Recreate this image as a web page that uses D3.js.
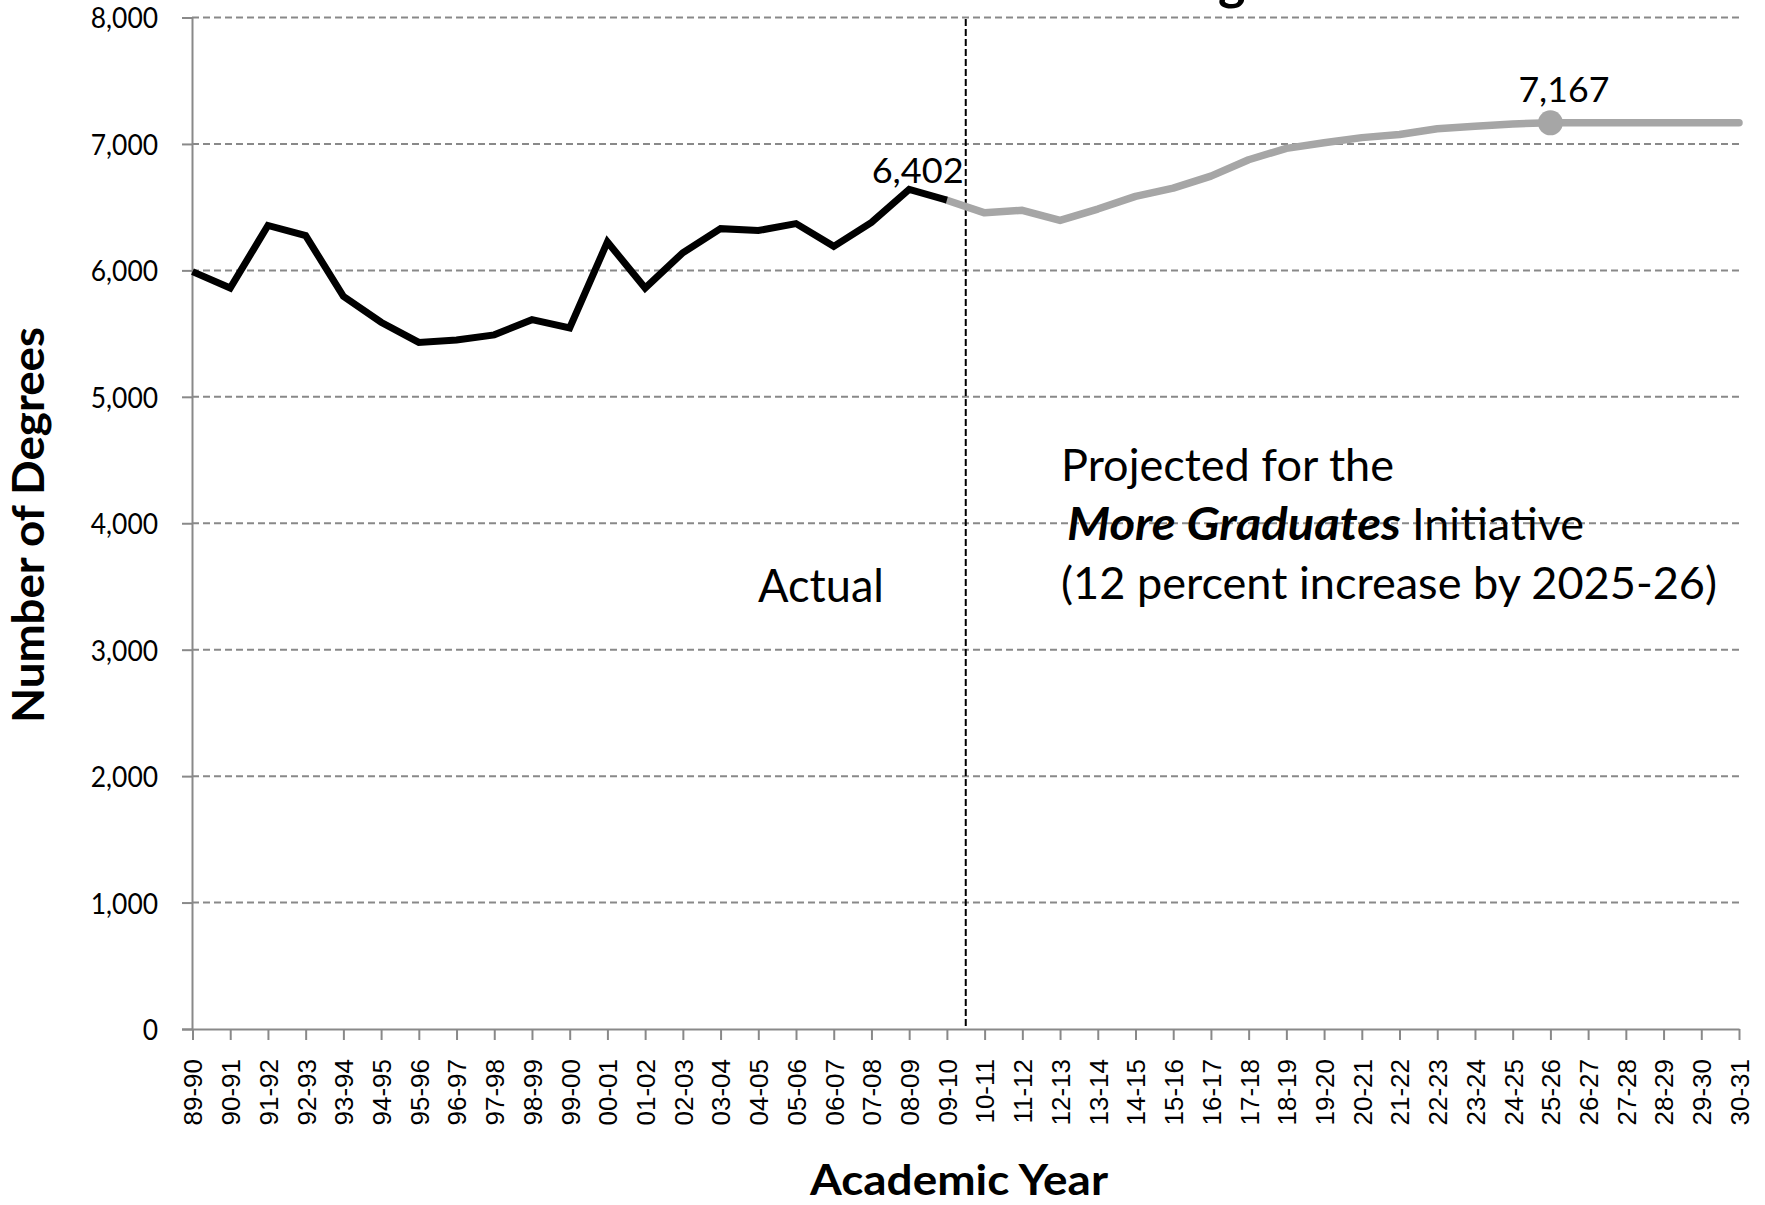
<!DOCTYPE html>
<html>
<head>
<meta charset="utf-8">
<script src="https://cdn.jsdelivr.net/npm/d3@7"></script>
<style>
  html, body { margin: 0; padding: 0; background: #ffffff; }
  svg { display: block; }
</style>
</head>
<body>
<svg id="chart" width="1765" height="1205"></svg>
<script>
// ---------------- data ----------------
const categories = ["89-90","90-91","91-92","92-93","93-94","94-95","95-96","96-97","97-98","98-99",
  "99-00","00-01","01-02","02-03","03-04","04-05","05-06","06-07","07-08","08-09","09-10",
  "10-11","11-12","12-13","13-14","14-15","15-16","16-17","17-18","18-19","19-20","20-21",
  "21-22","22-23","23-24","24-25","25-26","26-27","27-28","28-29","29-30","30-31"];

// Actual degrees, 89-90 through 09-10
const actualYears = categories.slice(0, 21);
const actualValues = [5990, 5860, 6355, 6275, 5795, 5590, 5430, 5450, 5490, 5610,
  5545, 6225, 5860, 6140, 6330, 6315, 6370, 6190, 6380, 6640, 6555];

// Projected degrees, 09-10 through 30-31
const projectedYears = categories.slice(20);
const projectedValues = [6555, 6455, 6475, 6395, 6485, 6585, 6650, 6745, 6875, 6965,
  7010, 7050, 7075, 7120, 7140, 7158, 7167, 7167, 7167, 7167, 7167, 7167];

const yTicks = [0, 1000, 2000, 3000, 4000, 5000, 6000, 7000, 8000];

const markerYear = "25-26";
const markerValue = 7167;
const actualLabelYear = "08-09";
const actualLabelText = "6,402";
const markerLabelText = "7,167";
const dividerPosition = 20.5; // between 09-10 and 10-11 (category index)

// ---------------- chart ----------------
const svg = d3.select("#chart");
const axisColor = "#898989";
const greyLine = "#a6a6a6";
const FONT = "Lato, 'Open Sans', sans-serif";

const x = d3.scalePoint().domain(categories).range([192.5, 1739]);
const y = d3.scaleLinear().domain([0, 8000]).range([1029, 17.5]);
const idx = d3.scaleLinear().domain([0, categories.length - 1]).range(x.range());

function fit(sel, w) {
  sel.attr("textLength", w).attr("lengthAdjust", "spacingAndGlyphs");
  return sel;
}
function squeeze(sel, f) {
  sel.each(function () {
    const w = this.getComputedTextLength();
    d3.select(this).attr("textLength", w * f).attr("lengthAdjust", "spacingAndGlyphs");
  });
}

// cut-off title glyph at very top
svg.append("text")
  .attr("x", 1218).attr("y", -1)
  .attr("font-family", FONT).attr("font-weight", 700).attr("font-size", 52)
  .attr("fill", "#000")
  .text("g");

// gridlines
svg.append("g").selectAll("line")
  .data(yTicks.filter(d => d > 0))
  .join("line")
  .attr("x1", 192).attr("x2", 1740)
  .attr("y1", d => y(d)).attr("y2", d => y(d))
  .attr("stroke", axisColor).attr("stroke-width", 2)
  .attr("stroke-dasharray", "7,4");

// y axis
const yAxis = svg.append("g")
  .attr("transform", "translate(192,0)")
  .call(d3.axisLeft(y).tickValues(yTicks).tickSize(10).tickPadding(24)
        .tickFormat(d3.format(",")));
yAxis.select(".domain").attr("stroke", axisColor).attr("stroke-width", 2);
yAxis.selectAll(".tick line").attr("stroke", axisColor).attr("stroke-width", 2);
yAxis.selectAll(".tick text")
  .attr("font-family", FONT).attr("font-size", 29).attr("fill", "#000")
  .attr("dy", "0.36em")
  .call(squeeze, 0.91);

// x axis
const xAxis = svg.append("g")
  .attr("transform", "translate(0,1029)")
  .call(d3.axisBottom(x).tickSize(11).tickSizeOuter(0));
xAxis.select(".domain").attr("stroke", axisColor).attr("stroke-width", 2);
xAxis.selectAll(".tick line").attr("stroke", axisColor).attr("stroke-width", 2);
xAxis.selectAll(".tick text")
  .attr("font-family", "'Liberation Sans', Arial, sans-serif")
  .attr("font-size", 26).attr("fill", "#000")
  .attr("transform", "rotate(-90)")
  .attr("x", -30).attr("y", 0).attr("dy", "0.36em")
  .attr("text-anchor", "end");

// vertical divider
svg.append("line")
  .attr("x1", idx(dividerPosition)).attr("x2", idx(dividerPosition))
  .attr("y1", 19).attr("y2", 1029)
  .attr("stroke", "#000").attr("stroke-width", 2)
  .attr("stroke-dasharray", "7,3");

// lines
const line = d3.line().x(d => x(d[0])).y(d => y(d[1]));

svg.append("path")
  .datum(d3.zip(projectedYears, projectedValues))
  .attr("d", line)
  .attr("fill", "none").attr("stroke", greyLine).attr("stroke-width", 7.5)
  .attr("stroke-linejoin", "round").attr("stroke-linecap", "round");

svg.append("circle")
  .attr("cx", x(markerYear)).attr("cy", y(markerValue)).attr("r", 12.5)
  .attr("fill", greyLine);

svg.append("path")
  .datum(d3.zip(actualYears, actualValues))
  .attr("d", line)
  .attr("fill", "none").attr("stroke", "#000").attr("stroke-width", 7)
  .attr("stroke-linejoin", "miter").attr("stroke-linecap", "butt");

// value labels
fit(svg.append("text")
  .attr("x", x(actualLabelYear) - 37.5).attr("y", 183)
  .attr("font-family", FONT).attr("font-size", 35).attr("fill", "#000")
  .text(actualLabelText), 92);

fit(svg.append("text")
  .attr("x", x(markerYear) - 32).attr("y", 102)
  .attr("font-family", FONT).attr("font-size", 35).attr("fill", "#000")
  .text(markerLabelText), 91);

// annotations
fit(svg.append("text")
  .attr("x", 758).attr("y", 602)
  .attr("font-family", FONT).attr("font-size", 46).attr("fill", "#000")
  .text("Actual"), 126);

fit(svg.append("text")
  .attr("x", 1061).attr("y", 481)
  .attr("font-family", FONT).attr("font-size", 45).attr("fill", "#000")
  .text("Projected for the"), 333);

fit(svg.append("text")
  .attr("x", 1067).attr("y", 540)
  .attr("font-family", FONT).attr("font-size", 45).attr("fill", "#000")
  .attr("font-weight", 700).attr("font-style", "italic")
  .text("More Graduates"), 334);

fit(svg.append("text")
  .attr("x", 1412).attr("y", 540)
  .attr("font-family", FONT).attr("font-size", 45).attr("fill", "#000")
  .text("Initiative"), 172);

fit(svg.append("text")
  .attr("x", 1061).attr("y", 599)
  .attr("font-family", FONT).attr("font-size", 45).attr("fill", "#000")
  .text("(12 percent increase by 2025-26)"), 656);

// axis titles
fit(svg.append("text")
  .attr("x", 810).attr("y", 1195)
  .attr("font-family", FONT).attr("font-size", 42).attr("font-weight", 700)
  .attr("fill", "#000")
  .text("Academic Year"), 298);

fit(svg.append("text")
  .attr("transform", "translate(44,723) rotate(-90)")
  .attr("x", 0).attr("y", 0)
  .attr("font-family", FONT).attr("font-size", 43).attr("font-weight", 700)
  .attr("fill", "#000")
  .text("Number of Degrees"), 396);
</script>
</body>
</html>
